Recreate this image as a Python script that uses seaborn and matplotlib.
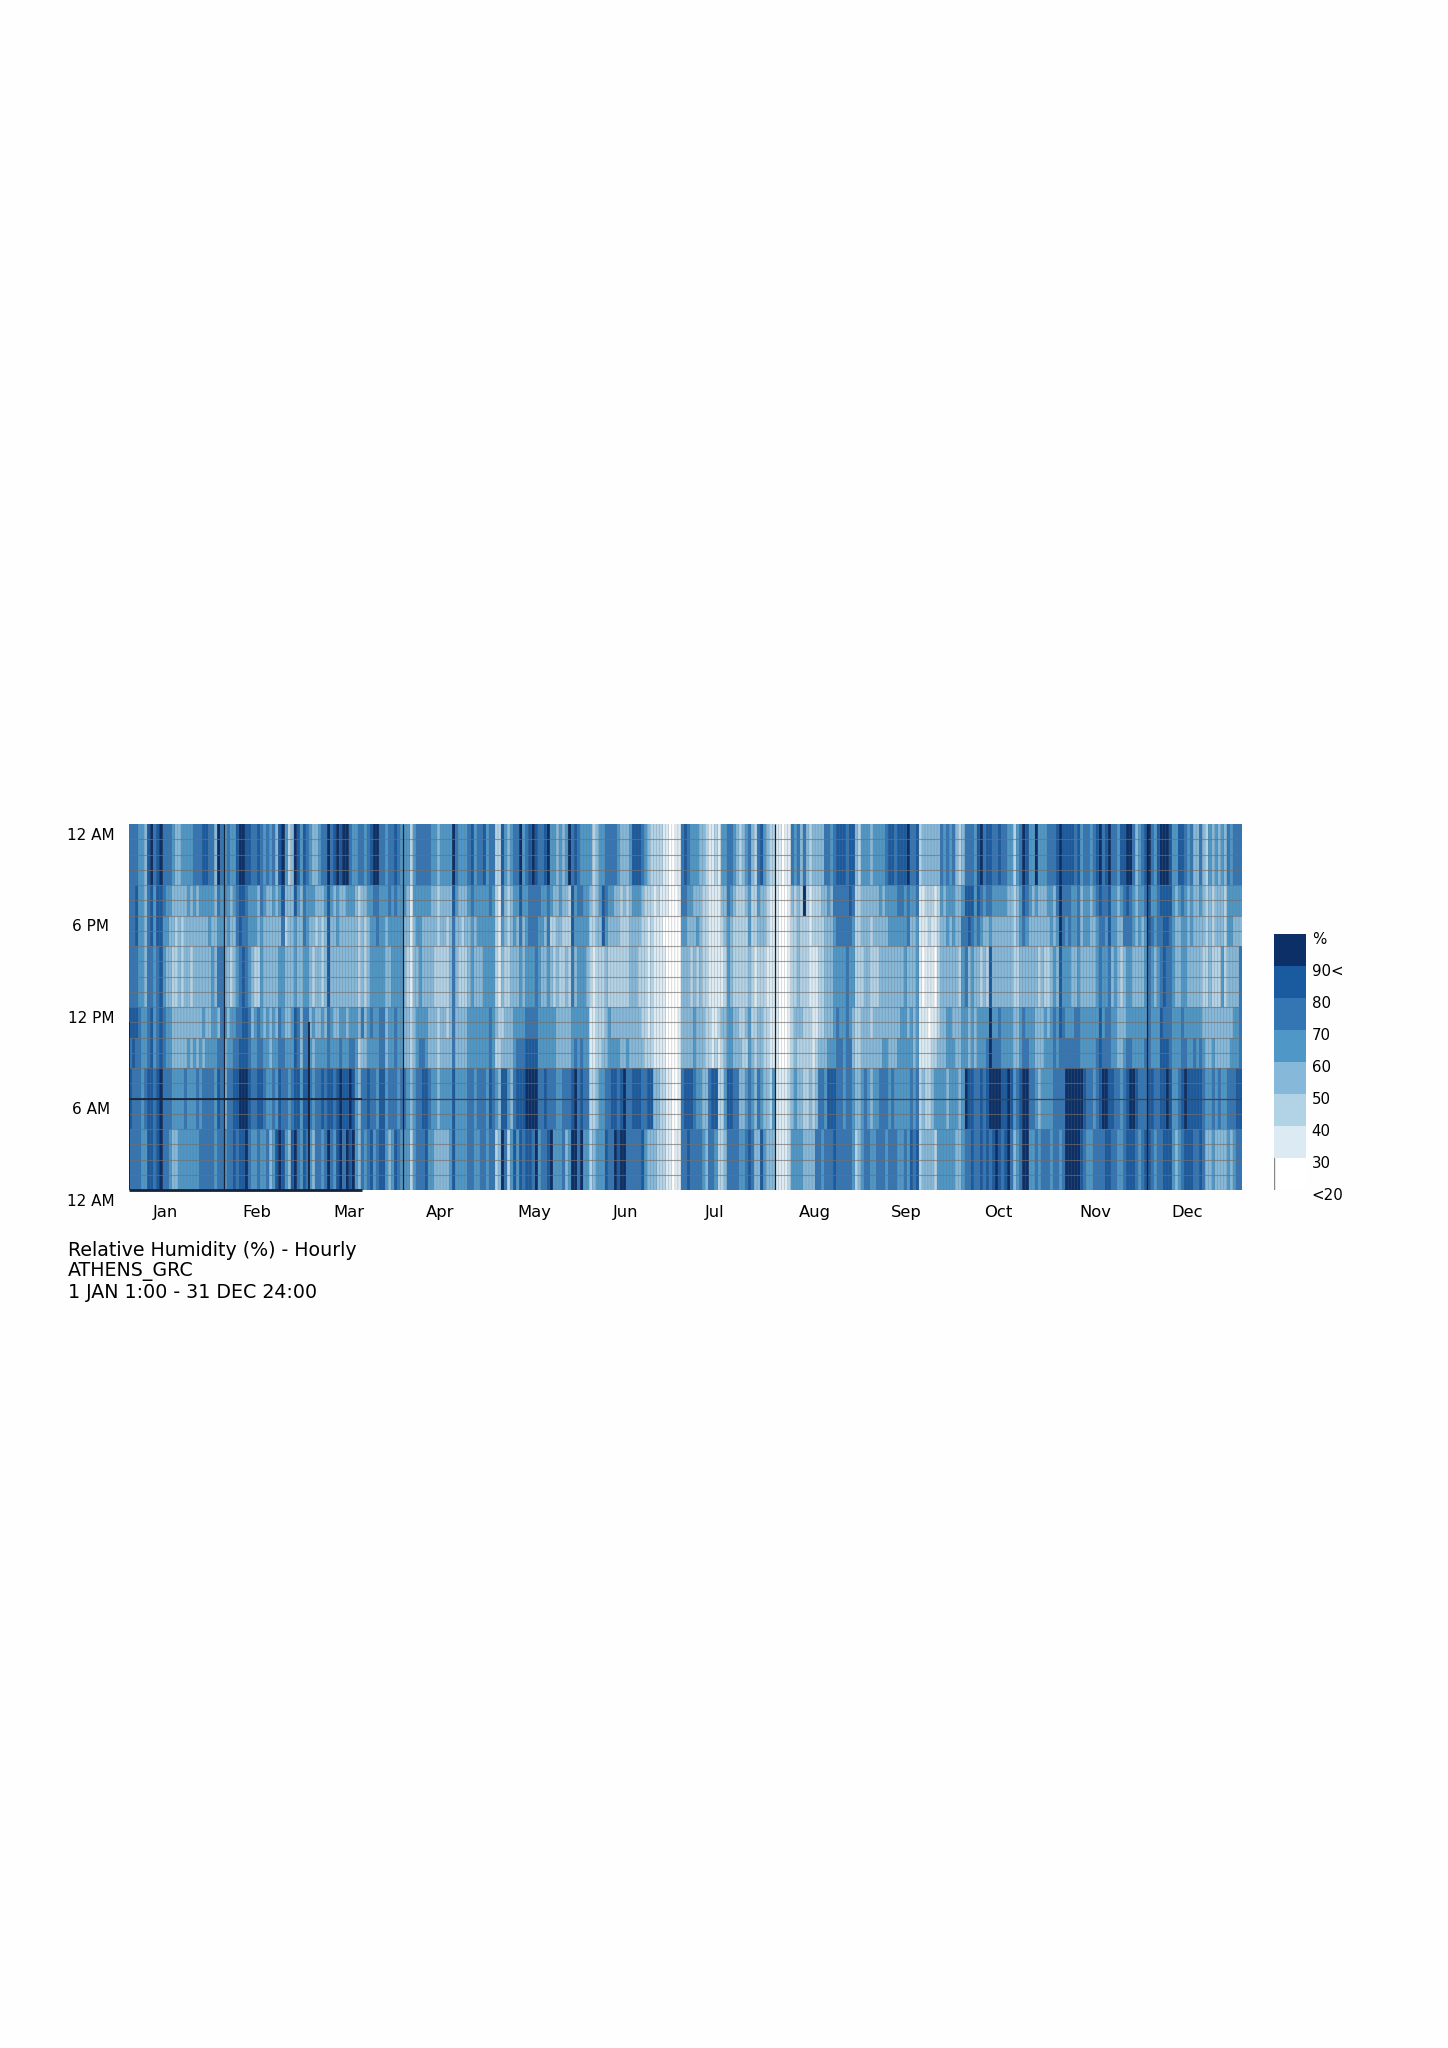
import numpy as np
import pandas as pd
import seaborn as sns
import matplotlib.pyplot as plt
from matplotlib.colors import ListedColormap, BoundaryNorm

months = ["Jan", "Feb", "Mar", "Apr", "May", "Jun", "Jul", "Aug", "Sep", "Oct", "Nov", "Dec"]
month_centres = [12, 42, 72, 102, 133, 163, 192, 225, 255, 285, 317, 347]
month_starts = [0, 31, 59, 90, 120, 151, 181, 212, 243, 273, 304, 334]
hour_labels = ["12 AM", "6 PM", "12 PM", "6 AM", "12 AM"]
legend_labels = ["%", "90<", "80", "70", "60", "50", "40", "30", "<20"]
colours = ["#ffffff", "#dcebf3", "#b2d2e6", "#85b8d9", "#4e97c7", "#3475b4", "#1a5a9f", "#0b2f66"]

# humidity class of each day (0 is <30, 7 is 90<), read off by eye, one list per
# block of hours from the top of the chart, one string per month
hours_24_21 = [
    "55544 36756 75554 33444 45556 65537 5", "45446 77665 56545 45367 42376 465",
    "43345 57567 67754 45545 67755 45565 4", "44245 55554 43444 47544 45645 56455",
    "22643 45574 56765 56744 34347 56544 4", "42344 55554 33346 66543 22221 10011",
    "56544 43321 12144 55432 34532 56432 2", "11011 54535 32333 35545 66656 63244 4",
    "34444 56656 66755 62333 33354 54532", "35554 67566 55655 44245 76447 44455 5",
    "67666 65645 54567 56755 46677 53456", "75467 77644 66545 33532 43434 35455 5"]
hours_20_19 = [
    "55644 35646 65443 33334 34344 44435 4", "44345 66544 43543 34346 33364 354",
    "44333 46434 33444 32334 45544 45454 4", "43144 44443 32333 36433 34544 44454",
    "21532 34464 45555 44543 34332 64554 4", "32346 54433 23234 44322 21211 10001",
    "55443 33221 11133 54322 23422 43321 1", "10001 32327 21222 33435 55556 52233 3",
    "33343 44445 54544 51122 21243 44433", "46664 65455 44444 33234 65434 33344 3",
    "57555 44534 43456 55644 34565 43445", "64456 66643 45434 33432 32333 24444 4"]
hours_18_17 = [
    "55644 35646 64433 23233 33333 34334 4", "34335 65544 43433 33335 23343 354",
    "33232 36334 33333 32323 44544 34444 4", "33134 43333 32332 35332 33434 44444",
    "21432 34353 45554 43522 33222 64444 4", "22336 43333 22233 33221 21110 00000",
    "44333 43221 11123 43222 22422 33321 1", "10001 22322 21222 23334 55555 42233 3",
    "23333 34444 44533 41112 11233 43433", "55654 54334 33333 33234 54333 33334 3",
    "47545 44534 43345 54644 33555 43434", "65455 66543 34434 33332 32333 24433 3"]
hours_16_13 = [
    "55544 35545 64332 23233 23333 33435 5", "33234 56543 22433 33344 33343 344",
    "32332 36333 33333 32323 44444 33444 4", "32133 43333 22222 35322 23433 34444",
    "21322 33343 44454 33432 32232 53444 3", "21222 32222 22233 32221 21111 00000",
    "33323 23221 11112 43222 22321 22211 1", "10001 22322 21112 23334 44454 42223 3",
    "22233 33333 34333 41011 10233 33332", "45343 32326 33333 33223 33333 23223 4",
    "36444 33433 33345 44534 32344 33334", "54345 65543 34433 33322 32224 23333 5"]
hours_12_11 = [
    "66654 45645 65443 33333 33334 33443 5", "43445 56653 45434 34354 33465 355",
    "34334 35433 44344 43534 54455 34454 4", "33234 44433 32332 35333 34444 44454",
    "32233 34444 55554 44444 33333 44444 4", "11222 34333 33333 33221 21111 00001",
    "33334 33322 11233 44332 23422 33221 1", "10001 23332 22112 23334 54454 32233 3",
    "23333 33333 44343 41110 11233 44333", "44343 44447 44544 44334 54443 33434 5",
    "46544 45544 44446 45544 33344 44444", "54446 55544 45444 44433 33333 33344 5"]
hours_10_9 = [
    "56554 45645 65443 33334 34343 44445 5", "34455 66654 45544 34455 44465 355",
    "43444 45444 54455 42334 44455 34454 4", "33234 55433 32333 35333 34444 44454",
    "22333 34555 66664 44444 33333 45454 4", "11223 34444 33433 33322 21111 00001",
    "33334 33322 12123 44333 22432 33221 1", "10001 23222 22123 33444 55455 32233 3",
    "33334 43334 44443 41111 22333 44433", "44343 44457 55544 44334 55443 33444 5",
    "45555 55544 44456 55544 33455 44445", "54446 66544 45544 54543 34333 33444 5"]
hours_8_5 = [
    "65554 56656 75554 44454 44545 55546 5", "35566 77765 56654 45465 54566 466",
    "54556 56656 76676 43556 55466 45554 5", "54345 56654 43444 46444 45545 55465",
    "43664 35666 77775 56555 44555 67565 5", "22344 55665 67556 66556 63322 11001",
    "56665 44335 66224 66553 34543 54332 4", "11112 34332 23235 54666 55455 43345 4",
    "34455 54544 44454 52322 34444 34443", "47665 56567 77766 76456 77554 34444 5",
    "55577 77776 55456 77665 54567 76555", "66556 67644 56766 66654 45454 45556 6"]
hours_4_1 = [
    "55554 46656 75543 34444 44455 55545 5", "45565 66754 45445 34676 43675 465",
    "43554 57546 75767 43545 64566 43465 4", "44245 55644 33333 46444 45544 55455",
    "23752 46465 66574 55674 44534 77574 4", "23444 65576 77555 55643 33222 11011",
    "55655 55435 54223 55554 45653 36433 3", "11112 44443 33355 45556 55555 42345 5",
    "44555 45554 45465 62333 32444 44433", "45565 56565 67656 75345 77445 45554 5",
    "54577 77765 44555 56655 44566 65456", "65455 66643 45666 55653 34333 34345 5"]
hour_blocks = [hours_24_21, hours_20_19, hours_18_17, hours_16_13, hours_12_11, hours_10_9, hours_8_5, hours_4_1]
block_rows = [4, 2, 2, 4, 2, 2, 4, 4]

days = []
for m in range(12):
    rows = []
    for block in hour_blocks:
        digits = block[m].replace(" ", "")
        rows.append([25 + 10 * int(d) for d in digits])
    days.append(np.repeat(np.array(rows), block_rows, axis=0))
humidity = pd.DataFrame(np.hstack(days))

cmap = ListedColormap(colours)
norm = BoundaryNorm([20, 30, 40, 50, 60, 70, 80, 90, 100], cmap.N)

sns.set_theme(style="white")
plt.rcParams['font.family'] = ['DejaVu Sans']
W, H = 1448, 2048
fig = plt.figure(figsize=(14.48, 20.48), dpi=100, facecolor="#fefefe")

ax = fig.add_axes([129 / W, 1 - 1190 / H, 1113 / W, 366 / H])
sns.heatmap(humidity, ax=ax, cmap=cmap, norm=norm, cbar=False, xticklabels=False, yticklabels=False)
ax.set_xlabel("")
ax.set_ylabel("")
ax.set_xticks(month_centres)
ax.set_xticklabels(months, fontsize=11.8, color="black", rotation=0)
ax.tick_params(axis="x", length=0, pad=11)
ax.set_yticks([])
for i, lab in enumerate(hour_labels):
    ax.text(-12.5, i * 6 + 0.75, lab, ha="center", va="center", fontsize=11, color="black", clip_on=False)

# thin grey grid, hourly and daily
hgrid = ax.hlines(np.arange(1, 24), 0, 365, color="#707070", lw=0.8, alpha=0.65)
vgrid = ax.vlines(np.arange(1, 365), 0, 24, color="#707070", lw=0.45, alpha=0.4)
vgrid.set_snap(False)

# dark lines left on top of the grid
ax.axhline(18, color="#444444", lw=0.9)
ax.vlines([month_starts[1], month_starts[3], month_starts[7], month_starts[11]], 0, 24, color="#15233a", lw=0.9)
ax.vlines([month_starts[0], month_starts[2]], 13, 24, color="#15233a", lw=1.3)
ax.hlines([18, 24], 0, 76.5, color="#15233a", lw=[1.2, 2.0], clip_on=False)

for i, line in enumerate(["Relative Humidity (%) - Hourly", "ATHENS_GRC", "1 JAN 1:00 - 31 DEC 24:00"]):
    fig.text(68 / W, 1 - (1250 + i * 21.5) / H, line, fontsize=13.7, color="black", ha="left", va="center")

# legend
cax = fig.add_axes([1274 / W, 1 - 1190 / H, 32 / W, 256 / H])
legend_classes = pd.DataFrame({"c": [95, 85, 75, 65, 55, 45, 35, 25]})
sns.heatmap(legend_classes, ax=cax, cmap=cmap, norm=norm, cbar=False, xticklabels=False, yticklabels=False)
cax.set_xlabel("")
cax.set_ylabel("")
cax.set_yticks([])
cax.axvline(0, ymin=0, ymax=1 / 8, color="#888888", lw=1)
for i, lab in enumerate(legend_labels):
    cax.text(1.18, i + 0.17, lab, ha="left", va="center", fontsize=10.8, color="black", clip_on=False)

fig.savefig("out.png", dpi=100, facecolor=fig.get_facecolor())
